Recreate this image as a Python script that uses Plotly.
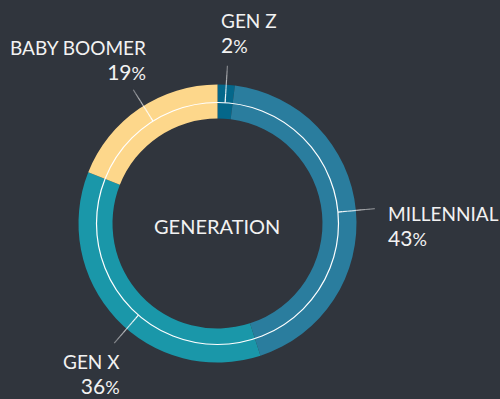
import math
import plotly.graph_objects as go

# ---- data ----
generations = ["GEN Z", "MILLENNIAL", "GEN X", "BABY BOOMER"]
shares = [2, 43, 36, 19]
center_title = "GENERATION"

# ---- style ----
colors = ["#04678a", "#2a7d9e", "#1a97a9", "#fdd78b"]
BG = "#30353d"
TEXT = "#f2f2f2"
FONT = "Lato"
W, H = 500, 399
CX, CY = 217.5, 223.5          # donut centre (px, from top-left)
R_OUT, R_IN = 139, 105         # ring radii (px)
R_GUIDE, R_LEAD = 121, 158     # thin white circle / leader end radius
leader_nudge = {"GEN Z": 0, "MILLENNIAL": 0, "GEN X": -6, "BABY BOOMER": 2}
# label block anchors: x, vertical centre y, alignment
label_layout = {
    "GEN Z": (219, 33, "left"),
    "MILLENNIAL": (386, 226, "left"),
    "GEN X": (122, 374, "right"),
    "BABY BOOMER": (148, 60, "right"),
}


def px(x):
    return x / W


def py(y):
    return 1 - y / H


fig = go.Figure(
    go.Pie(
        labels=generations,
        values=shares,
        sort=False,
        direction="clockwise",
        rotation=0,
        hole=R_IN / R_OUT,
        marker=dict(colors=colors, line=dict(width=0)),
        textinfo="none",
        hoverinfo="label+percent",
        domain=dict(
            x=[px(CX - R_OUT), px(CX + R_OUT)],
            y=[py(CY + R_OUT), py(CY - R_OUT)],
        ),
        showlegend=False,
    )
)

shapes = [
    dict(
        type="circle", xref="paper", yref="paper",
        x0=px(CX - R_GUIDE), x1=px(CX + R_GUIDE),
        y0=py(CY + R_GUIDE), y1=py(CY - R_GUIDE),
        line=dict(color="white", width=1.2),
    )
]

annotations = []
total = sum(shares)
cum = 0
for name, v in zip(generations, shares):
    mid = (cum + v / 2) / total * 360 + leader_nudge[name]
    cum += v
    a = math.radians(mid)
    # leader line from the guide circle outward, fading as it goes
    n = 8
    for i in range(n):
        r0 = R_GUIDE + (R_LEAD - R_GUIDE) * i / n
        r1 = R_GUIDE + (R_LEAD - R_GUIDE) * (i + 1) / n
        shapes.append(dict(
            type="line", xref="paper", yref="paper",
            x0=px(CX + r0 * math.sin(a)), y0=py(CY - r0 * math.cos(a)),
            x1=px(CX + r1 * math.sin(a)), y1=py(CY - r1 * math.cos(a)),
            line=dict(color="white", width=1.2),
            opacity=1 - 0.6 * i / (n - 1),
        ))
    lx, ly, align = label_layout[name]
    pct = round(v / total * 100)
    text = (f"{name}<br><span style='font-size:21px'>{pct}</span>"
            f"<span style='font-size:18px'>%</span>")
    annotations.append(dict(
        text=text, x=px(lx), y=py(ly), xref="paper", yref="paper",
        xanchor=align, yanchor="middle", showarrow=False, align=align,
        font=dict(family=FONT, size=19, color=TEXT),
    ))

annotations.append(dict(
    text=center_title, x=px(CX - 1), y=py(CY + 2), xref="paper", yref="paper",
    xanchor="center", yanchor="middle", showarrow=False,
    font=dict(family=FONT, size=20, color=TEXT),
))

fig.update_layout(
    width=W, height=H,
    margin=dict(l=0, r=0, t=0, b=0),
    paper_bgcolor=BG, plot_bgcolor=BG,
    shapes=shapes, annotations=annotations,
)

fig.write_html("out.html", include_plotlyjs=True, full_html=True,
               config={"displayModeBar": False})
